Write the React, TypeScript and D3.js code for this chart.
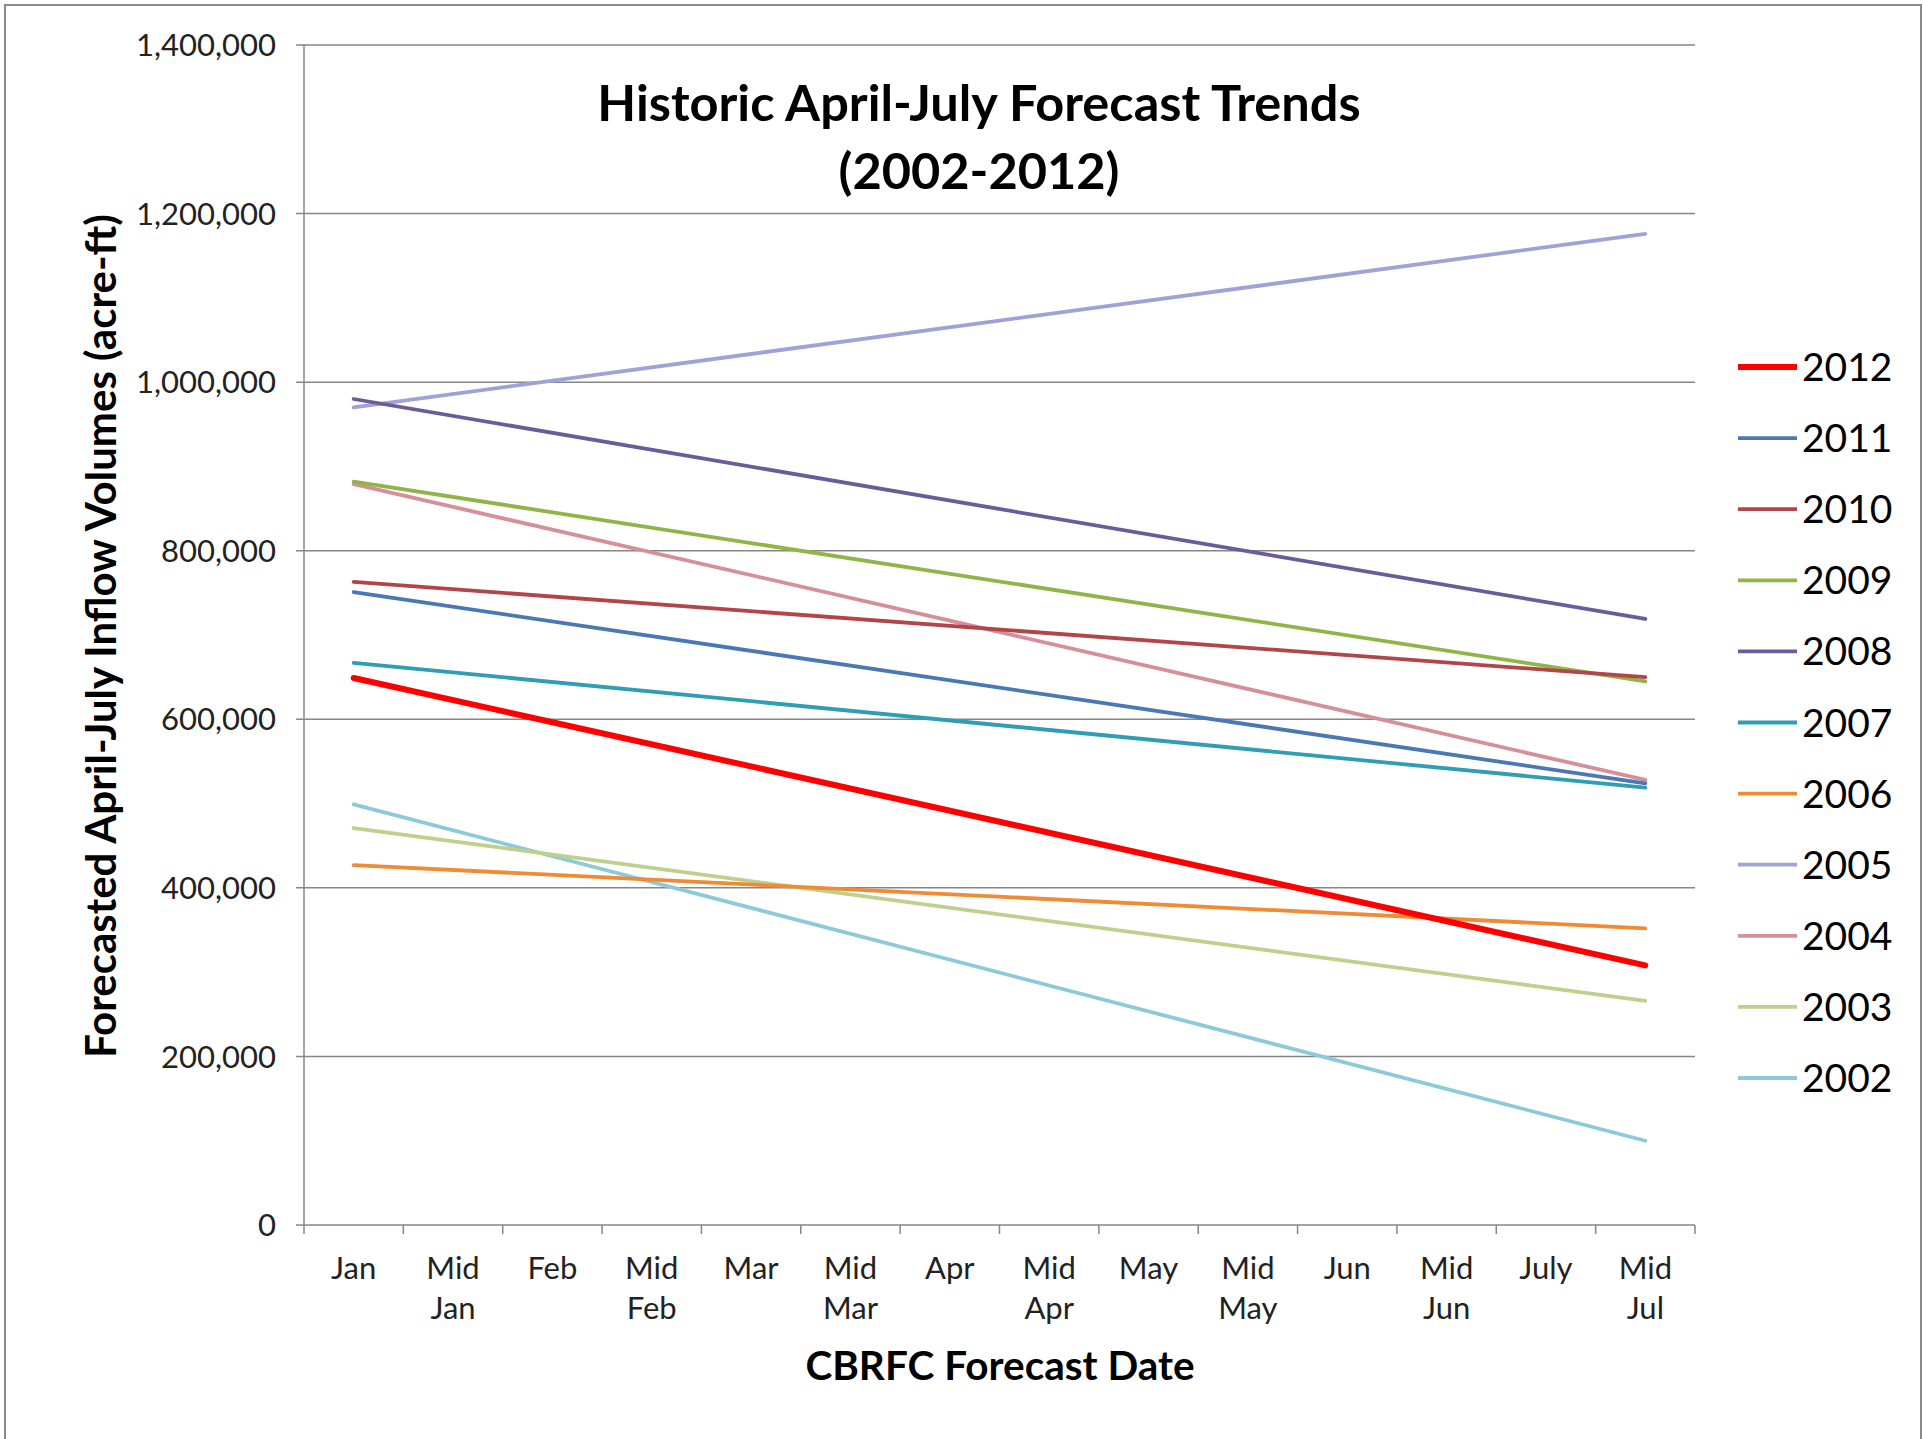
import * as d3 from "d3";

const categories = ["Jan", "Mid Jan", "Feb", "Mid Feb", "Mar", "Mid Mar", "Apr", "Mid Apr", "May", "Mid May", "Jun", "Mid Jun", "July", "Mid Jul"];
const years = ["2012", "2011", "2010", "2009", "2008", "2007", "2006", "2005", "2004", "2003", "2002"];
// forecast at the first (Jan) and the last (Mid Jul) forecast date, acre-ft
const janValues = [649000, 751000, 763000, 882000, 980000, 667000, 427000, 970000, 879000, 471000, 499000];
const julValues = [308000, 524000, 650000, 645000, 719000, 519000, 352000, 1176000, 528000, 266000, 100000];
const colors = ["#ff0000", "#4a78b5", "#b2454a", "#8fb547", "#6b5b99", "#2f9db3", "#ef8a35", "#9fa2d6", "#d68e98", "#bdd08c", "#8ccad9"];
const yTicks = [0, 200000, 400000, 600000, 800000, 1000000, 1200000, 1400000];

const W = 1923;
const H = 1439;
const left = 304, right = 1695, top = 45, bottom = 1225;
const font = "Lato, 'Open Sans', sans-serif";

export default function App() {
    const x = d3.scaleBand(categories, [left, right]).paddingInner(0).paddingOuter(0);
    const y = d3.scaleLinear([0, 1400000], [bottom, top]);
    const fmt = d3.format(",");
    const line = d3.line<{ c: string; v: number }>((d) => (x(d.c) as number) + x.bandwidth() / 2, (d) => y(d.v));

    const series = years.map((yr, i) => ({
        year: yr,
        color: colors[i],
        points: [{ c: "Jan", v: janValues[i] }, { c: "Mid Jul", v: julValues[i] }],
    }));

    const legendY = d3.scaleLinear([0, years.length - 1], [367, 1078]);

    return (
        <svg width={W} height={H} style={{ position: "absolute", left: 0, top: 0, background: "#fff" }} fontFamily={font}>
            <rect x={0} y={0} width={W} height={H} fill="#fff" />
            <path d={`M5,${H} V5 H1921 V${H}`} fill="none" stroke="#8a8a8a" strokeWidth={2} />

            {/* grid + y axis */}
            {yTicks.map((t) => (
                <g key={t}>
                    <line x1={left - 8} x2={right} y1={y(t)} y2={y(t)} stroke="#868686" strokeWidth={1.5} />
                    <text x={276} y={y(t)} dy="0.36em" textAnchor="end" fontSize={31} fill="#222">{fmt(t)}</text>
                </g>
            ))}
            <line x1={left} x2={left} y1={top} y2={bottom} stroke="#868686" strokeWidth={1.5} />

            {/* x axis ticks + labels */}
            {[...categories.map((c) => x(c) as number), right].map((p, i) => (
                <line key={i} x1={p} x2={p} y1={bottom} y2={bottom + 9} stroke="#868686" strokeWidth={1.5} />
            ))}
            {categories.map((c) => {
                const parts = c.split(" ");
                const cx = (x(c) as number) + x.bandwidth() / 2;
                return (
                    <text key={c} x={cx} textAnchor="middle" fontSize={31} fill="#222">
                        {parts.map((p, j) => (
                            <tspan key={j} x={cx} y={1279 + j * 40}>{p}</tspan>
                        ))}
                    </text>
                );
            })}

            {/* series */}
            {[...series].reverse().map((s) => (
                <path key={s.year} d={line(s.points) as string} fill="none" stroke={s.color}
                    strokeWidth={s.year === "2012" ? 6 : 3.8} strokeLinecap="round" />
            ))}

            {/* titles */}
            <text x={980} textAnchor="middle" fontSize={50.5} fontWeight="bold" fill="#000">
                <tspan x={979} y={121}>Historic April-July Forecast Trends</tspan>
                <tspan x={979} y={189}>(2002-2012)</tspan>
            </text>
            <text x={1000} y={1380} textAnchor="middle" fontSize={40.5} fontWeight="bold" fill="#000">CBRFC Forecast Date</text>
            <text transform="translate(116,636) rotate(-90)" textAnchor="middle" fontSize={42} fontWeight="bold" fill="#000">
                Forecasted April-July Inflow Volumes (acre-ft)
            </text>

            {/* legend */}
            {series.map((s, i) => (
                <g key={s.year} transform={`translate(0,${legendY(i)})`}>
                    <line x1={1738} x2={1797} y1={0} y2={0} stroke={s.color} strokeWidth={s.year === "2012" ? 6 : 3.8} />
                    <text x={1802} y={0} dy="0.36em" fontSize={39} fill="#000">{s.year}</text>
                </g>
            ))}
        </svg>
    );
}
